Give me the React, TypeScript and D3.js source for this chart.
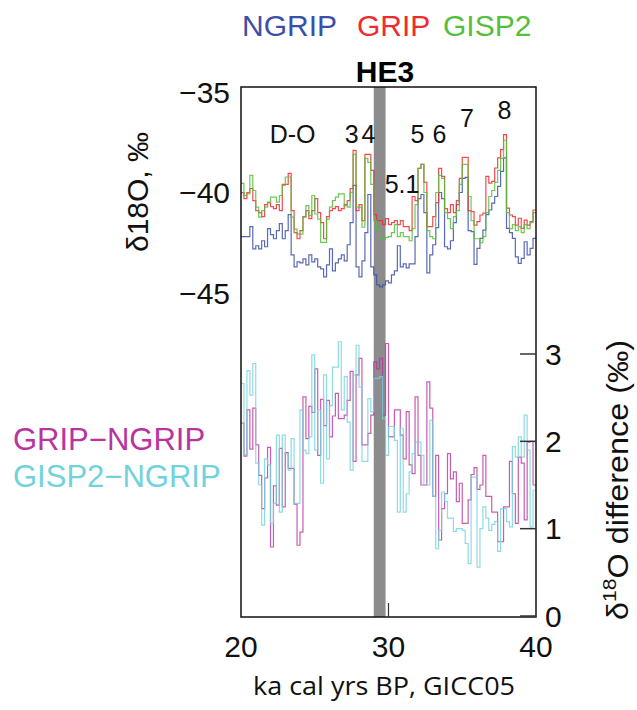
import React from "react";
import * as d3 from "d3";

// ---- data (0.2 ka bins starting at 20.0 ka) ----
const binStart = 20;
const binWidth = 0.2;

const ngrip = [
  -42.2, -42.2, -42.2, -41.7, -42.8, -42.65, -42.8, -42.4, -42.7, -41.8,
  -42.1, -42.3, -41.9, -41.55, -42.3, -41.9, -41.1, -43.1, -43.7, -43.45,
  -43.5, -43.3, -43.6, -43.1, -43.45, -43.3, -43.7, -43.8, -44.2, -43.6,
  -42.8, -43.9, -43.5, -43.3, -43.1, -43.4, -42.6, -41.5, -39.65, -43.7,
  -44.2, -43.4, -42.0, -40.1, -43.7, -44.1, -44.6, -44.7, -44.6, -44.4,
  -44.5, -44.1, -43.9, -42.65, -43.7, -43.55, -43.75, -43.55, -43.55, -42.2,
  -40.3, -40.1, -41.0, -44.0, -43.1, -42.6, -41.75, -40.0, -40.3, -42.7,
  -42.8, -42.4, -41.5, -40.6, -40.0, -39.3, -39.25, -41.9, -41.95, -43.58,
  -42.78, -42.28, -41.87, -41.1, -40.87, -40.53, -40.2, -39.7, -38.95, -38.28,
  -41.78, -42.0, -42.28, -43.2, -43.53, -43.28, -42.45, -43.1, -42.78, -42.28,
];

const grip = [
  -40.0, -40.3, -40.0, -39.8, -40.4, -40.9, -41.0, -41.2, -40.6, -40.5,
  -40.7, -40.8, -40.6, -40.9, -39.6, -39.6, -39.05, -40.9, -42.0, -42.3,
  -41.9, -41.2, -40.9, -41.3, -40.9, -40.3, -41.0, -41.5, -42.3, -41.2,
  -40.9, -40.8, -40.7, -40.9, -40.8, -40.6, -40.4, -39.8, -37.9, -40.9,
  -40.6, -41.4, -38.1, -38.1, -38.9, -41.1, -41.4, -41.4, -41.6, -41.3,
  -41.6, -41.5, -41.4, -41.6, -41.4, -41.7, -41.7, -41.9, -40.2, -40.4,
  -38.8, -38.6, -39.5, -41.7, -41.7, -41.2, -40.5, -38.8, -39.2, -40.8,
  -41.0, -40.6, -41.0, -40.4, -39.3, -38.25, -38.25, -40.9, -40.95, -41.62,
  -41.45, -41.12, -41.03, -39.2, -39.53, -39.45, -38.78, -38.28, -37.87, -37.12,
  -40.78, -41.12, -41.2, -41.62, -41.28, -41.78, -41.37, -41.62, -41.45, -40.87,
];

const gisp2 = [
  -39.55, -40.15, -40.07, -39.15, -39.9, -40.73, -41.23, -40.9, -40.73, -40.48,
  -40.23, -40.23, -40.48, -40.15, -39.65, -39.23, -39.23, -41.23, -41.82, -42.07,
  -42.07, -41.23, -40.65, -41.15, -40.15, -41.07, -41.32, -42.48, -42.48, -41.32,
  -40.73, -40.4, -40.23, -40.07, -40.07, -40.65, -40.73, -40.0, -38.1, -40.73,
  -40.73, -41.73, -38.3, -38.5, -39.6, -41.4, -41.82, -42.32, -42.32, -42.23,
  -42.2, -42.0, -41.6, -42.2, -42.0, -42.2, -42.2, -42.4, -41.8, -40.6,
  -38.8, -38.6, -40.0, -41.9, -42.2, -42.3, -40.0, -39.15, -39.3, -41.0,
  -41.3, -41.8, -41.2, -40.9, -39.6, -38.6, -38.6, -40.2, -41.4, -42.3,
  -42.3, -42.5, -42.2, -41.0, -40.2, -39.9, -39.5, -38.9, -38.3, -37.4,
  -41.0, -41.8, -41.6, -41.9, -41.7, -42.0, -41.6, -41.8, -41.5, -41.0,
];

const gripMinusNgrip = [
  2.21, 1.83, 2.36, 1.91, 2.38, 1.96, 1.61, 1.23, 1.58, 1.93,
  0.79, 1.49, 1.27, 1.92, 1.25, 1.87, 1.69, 1.69, 1.28, 0.81,
  0.96, 2.51, 2.03, 2.40, 2.33, 2.83, 1.84, 2.48, 2.18, 2.47,
  2.05, 2.29, 2.55, 2.26, 2.26, 2.30, 2.47, 2.80, 1.77, 2.76,
  2.95, 1.96, 1.96, 2.09, 2.30, 2.91, 2.83, 2.95, 2.30, 3.12,
  2.05, 2.05, 2.36, 2.36, 2.07, 1.80, 2.34, 1.73, 1.63, 2.51,
  1.84, 1.50, 1.50, 2.68, 2.38, 1.37, 1.84, 0.87, 1.23, 1.40,
  1.86, 1.57, 1.65, 1.31, 1.52, 1.06, 1.06, 1.33, 1.62, 1.70,
  1.45, 1.50, 1.84, 1.37, 1.37, 1.19, 1.19, 0.85, 0.85, 1.25,
  1.25, 1.77, 1.40, 1.06, 1.82, 1.75, 1.10, 1.99, 2.00, 1.50,
];

const gisp2MinusNgrip = [
  2.66, 1.85, 2.81, 2.53, 2.89, 1.75, 1.50, 1.04, 1.80, 1.73,
  1.06, 1.29, 2.07, 1.19, 2.07, 1.86, 1.67, 2.03, 1.29, 1.29,
  2.36, 1.90, 1.86, 2.05, 2.99, 1.90, 2.36, 1.52, 2.76, 1.80,
  2.41, 2.85, 2.85, 3.14, 2.36, 2.74, 2.22, 1.67, 2.76, 3.10,
  2.62, 1.77, 1.77, 2.49, 2.34, 2.72, 2.72, 2.74, 2.26, 1.84,
  2.17, 2.17, 2.01, 1.19, 2.15, 1.19, 1.40, 1.65, 1.86, 1.99,
  1.99, 1.84, 1.50, 1.50, 2.24, 1.37, 0.77, 0.98, 1.42, 1.31,
  1.12, 1.12, 0.97, 1.00, 1.00, 0.98, 0.83, 0.60, 1.59, 1.59,
  0.56, 1.00, 1.25, 1.12, 0.98, 1.05, 1.08, 0.74, 1.23, 1.23,
  1.08, 1.02, 1.94, 1.82, 2.05, 1.82, 2.30, 1.90, 1.02, 1.44,
];

const xTicks = [20, 30, 40];
const topTicks = [-35, -40, -45];
const bottomTicks = [0, 1, 2, 3];
const he3 = [29.0, 29.8];

const eventLabels = ["D-O", "3", "4", "5.1", "5", "6", "7", "8"];
const eventAge = [23.5, 27.5, 28.64, 30.92, 31.97, 33.46, 35.32, 37.86];
const eventLevel = [-37.54, -37.54, -37.54, -40.02, -37.54, -37.54, -36.74, -36.34];

const topSeries = [
  { name: "NGRIP", values: ngrip, color: "#3c4fa8" },
  { name: "GRIP", values: grip, color: "#ef2b2f" },
  { name: "GISP2", values: gisp2, color: "#55be3b" },
];
const diffSeries = [
  { name: "GRIP−NGRIP", values: gripMinusNgrip, color: "#b8349f" },
  { name: "GISP2−NGRIP", values: gisp2MinusNgrip, color: "#72d2dc" },
];

const SANS = "'Liberation Sans', Arial, Helvetica, sans-serif";

export default function App() {
  const W = 637;
  const H = 710;
  const x = d3.scaleLinear().domain([20, 40]).range([241, 536]);
  const yTop = d3.scaleLinear().domain([-35, -45]).range([92, 293]);
  const yBot = d3.scaleLinear().domain([0, 3]).range([616, 354]);
  const frameTop = 87;
  const frameBottom = 617;

  const toPts = (vals: number[]) => {
    const pts = vals.map((v, i) => [binStart + i * binWidth, v] as [number, number]);
    pts.push([binStart + vals.length * binWidth, vals[vals.length - 1]]);
    return pts;
  };
  const lineTop = d3
    .line<[number, number]>()
    .x((d) => x(d[0]))
    .y((d) => yTop(d[1]))
    .curve(d3.curveStepAfter);
  const lineBot = d3
    .line<[number, number]>()
    .x((d) => x(d[0]))
    .y((d) => yBot(d[1]))
    .curve(d3.curveStepAfter);

  return (
    <svg
      width={W}
      height={H}
      style={{ position: "absolute", left: 0, top: 0, background: "#fff" }}
      fontFamily={SANS}
    >
      <rect x={0} y={0} width={W} height={H} fill="#fff" />

      {/* top legend */}
      <text x={242} y={36} fontSize={30} fill="#3c4fa8">NGRIP</text>
      <text x={357} y={36} fontSize={30} fill="#ef2b2f">GRIP</text>
      <text x={443} y={36} fontSize={30} fill="#55be3b">GISP2</text>

      {/* HE3 */}
      <text x={385} y={82} fontSize={30} fontWeight="bold" textAnchor="middle" fill="#000">
        HE3
      </text>

      {/* HE3 bar */}
      <rect
        x={x(he3[0])}
        y={frameTop}
        width={x(he3[1]) - x(he3[0])}
        height={frameBottom - frameTop}
        fill="#8c8c8c"
      />

      {/* top series */}
      {topSeries.map((s) => (
        <path
          key={s.name}
          d={lineTop(toPts(s.values)) || ""}
          fill="none"
          stroke={s.color}
          strokeWidth={1.2}
          strokeOpacity={0.85}
        />
      ))}

      {/* difference series */}
      {diffSeries.map((s) => (
        <path
          key={s.name}
          d={lineBot(toPts(s.values)) || ""}
          fill="none"
          stroke={s.color}
          strokeWidth={1.2}
          strokeOpacity={0.8}
        />
      ))}

      {/* frame */}
      <rect
        x={x(20)}
        y={frameTop}
        width={x(40) - x(20)}
        height={frameBottom - frameTop}
        fill="none"
        stroke="#111"
        strokeWidth={1.5}
      />

      {/* inner tick at 30 */}
      <line x1={x(30)} x2={x(30)} y1={frameBottom} y2={frameBottom - 14} stroke="#333" strokeWidth={1.2} />

      {/* right axis ticks */}
      {bottomTicks.map((t) => (
        <g key={t}>
          <line x1={x(40) - 16} x2={x(40)} y1={yBot(t)} y2={yBot(t)} stroke="#333" strokeWidth={1.5} />
          <text x={545} y={yBot(t) + 10.5} fontSize={30} fill="#111">
            {t}
          </text>
        </g>
      ))}

      {/* left axis ticks */}
      {topTicks.map((t) => (
        <text key={t} x={230} y={yTop(t) + 10.5} fontSize={30} textAnchor="end" fill="#111">
          {"\u2212" + Math.abs(t)}
        </text>
      ))}

      {/* x ticks */}
      {xTicks.map((t) => (
        <text key={t} x={x(t)} y={657} fontSize={30} textAnchor="middle" fill="#111">
          {t}
        </text>
      ))}

      {/* x title */}
      <text
        x={384}
        y={695}
        fontSize={26}
        textAnchor="middle"
        fontFamily="'Open Sans', 'Noto Sans', sans-serif"
        textLength={262}
        lengthAdjust="spacingAndGlyphs"
        fill="#111"
      >
        ka cal yrs BP, GICC05
      </text>

      {/* left y label */}
      <text
        transform="translate(148,192) rotate(-90)"
        fontSize={30}
        textAnchor="middle"
        fill="#111"
      >
        δ18O, ‰
      </text>

      {/* right y label */}
      <text
        transform="translate(628,480) rotate(-90)"
        fontSize={29}
        textAnchor="middle"
        textLength={280}
        lengthAdjust="spacingAndGlyphs"
        fill="#111"
      >
        δ
        <tspan fontSize={19} dy={-12}>18</tspan>
        <tspan dy={12}>O difference (‰)</tspan>
      </text>

      {/* bottom legend */}
      <text x={13} y={450} fontSize={31} fill="#b8349f">GRIP−NGRIP</text>
      <text x={13} y={487} fontSize={31} fill="#72d2dc">GISP2−NGRIP</text>

      {/* event labels */}
      {eventLabels.map((l, i) => (
        <text
          key={l}
          x={x(eventAge[i])}
          y={yTop(eventLevel[i])}
          fontSize={25}
          textAnchor="middle"
          fill="#111"
        >
          {l}
        </text>
      ))}
    </svg>
  );
}
